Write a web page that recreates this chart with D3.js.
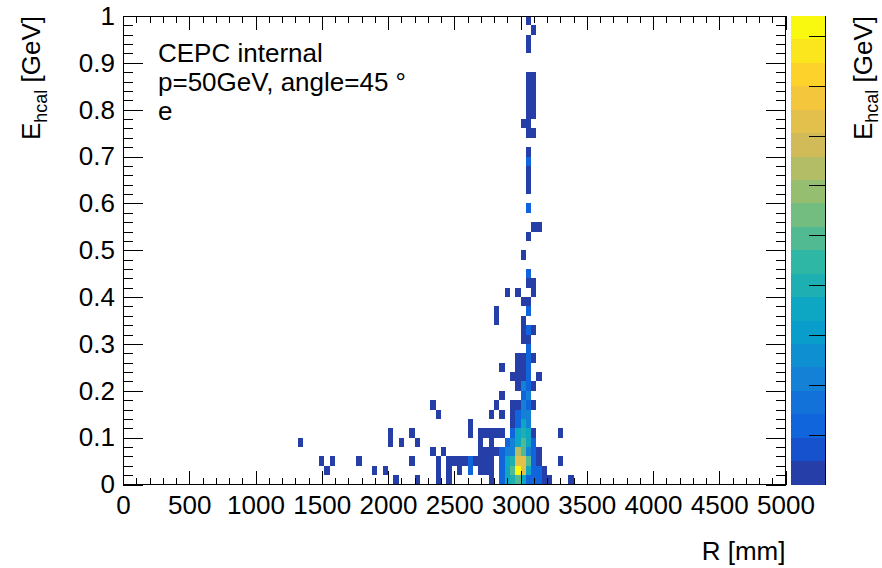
<!DOCTYPE html>
<html><head><meta charset="utf-8">
<script src="https://cdn.jsdelivr.net/npm/d3@7"></script>
<style>
body{margin:0;background:#fff}
svg{display:block}
text{font-family:"Liberation Sans",Arial,Helvetica,sans-serif;fill:#000}
</style>
</head><body>
<svg id="c" width="882" height="568"></svg>
<script>
// ---------------- data ----------------
const rBinWidth = 40;      // mm
const eBinWidth = 0.02;    // GeV
const zMax = 9.4;
const nContours = 20;
// lower edges of filled bins (R in mm, E in GeV) and bin contents
const binR = [
 3040, 3080, 3040, 3040,
 3040,3080, 3040,3080, 3040,3080, 3040,3080, 3040,3080,
 3000,3040, 3040,3080,
 3040, 3040, 3040, 3040, 3040,
 3040, 3080,3120, 3040, 3000, 3040, 3040,3080,
 2880,2960,3080, 3000,3040, 2800,3040, 2800,3000,
 3000,3040,3080, 3000,3040, 3040,
 2960,3000,3040,3080, 2840,2960,3000,3040,
 2920,2960,3000,3040,3120, 2960,3000,3040,3080,
 2840,3000,3040,
 2320,2800,2920,2960,3000,3040,3080,
 2360,2760,2840,2920,2960,3000,3040,
 2600,2920,2960,3000,3040,
 2000,2160,2600,2680,2720,2760,2800,2840,2920,2960,3000,3040,3080,3280,
 1320,2000,2080,2200,2680,2760,2880,2920,2960,3000,3040,3080,
 2320,2400,2680,2720,2760,2800,2840,2880,2920,2960,3000,3040,3080,3120,
 1480,1560,1760,2160,2360,2440,2480,2520,2560,2600,2640,2680,2720,2760,2840,2880,2920,2960,3000,3040,3080,3120,3280,
 1520,1880,1960,2360,2440,2520,2600,2680,2720,2760,2840,2880,2920,2960,3000,3040,3080,3120,3160,
 2040,2200,2360,2440,2760,2840,2880,2920,2960,3000,3040,3080,3120,3160,3200,3360
];
const binE = [
 0.98, 0.96, 0.94, 0.92,
 0.86,0.86, 0.84,0.84, 0.82,0.82, 0.80,0.80, 0.78,0.78,
 0.76,0.76, 0.74,0.74,
 0.70, 0.68, 0.66, 0.64, 0.62,
 0.58, 0.54,0.54, 0.52, 0.48, 0.44, 0.42,0.42,
 0.40,0.40,0.40, 0.38,0.38, 0.36,0.36, 0.34,0.34,
 0.32,0.32,0.32, 0.30,0.30, 0.28,
 0.26,0.26,0.26,0.26, 0.24,0.24,0.24,0.24,
 0.22,0.22,0.22,0.22,0.22, 0.20,0.20,0.20,0.20,
 0.18,0.18,0.18,
 0.16,0.16,0.16,0.16,0.16,0.16,0.16,
 0.14,0.14,0.14,0.14,0.14,0.14,0.14,
 0.12,0.12,0.12,0.12,0.12,
 0.10,0.10,0.10,0.10,0.10,0.10,0.10,0.10,0.10,0.10,0.10,0.10,0.10,0.10,
 0.08,0.08,0.08,0.08,0.08,0.08,0.08,0.08,0.08,0.08,0.08,0.08,
 0.06,0.06,0.06,0.06,0.06,0.06,0.06,0.06,0.06,0.06,0.06,0.06,0.06,0.06,
 0.04,0.04,0.04,0.04,0.04,0.04,0.04,0.04,0.04,0.04,0.04,0.04,0.04,0.04,0.04,0.04,0.04,0.04,0.04,0.04,0.04,0.04,0.04,
 0.02,0.02,0.02,0.02,0.02,0.02,0.02,0.02,0.02,0.02,0.02,0.02,0.02,0.02,0.02,0.02,0.02,0.02,0.02,
 0,0,0,0,0,0,0,0,0,0,0,0,0,0,0,0
];
const binW = [
 0.3, 0.3, 0.3, 0.3,
 0.3,0.3, 0.3,0.3, 0.3,0.3, 0.3,0.3, 0.3,0.3,
 0.3,0.3, 0.3,0.3,
 0.3, 1.2, 0.3, 0.3, 0.3,
 1.2, 0.3,0.3, 0.3, 0.3, 1.2, 0.3,0.3,
 0.3,0.3,0.3, 0.3,0.3, 0.3,1.2, 0.3,0.3,
 0.3,1.2,0.3, 0.3,0.3, 1.2,
 0.3,0.3,1.2,0.3, 0.3,0.3,0.3,1.2,
 0.3,0.3,0.3,1.2,0.3, 0.3,2.0,1.2,0.3,
 0.3,1.2,2.0,
 0.3,0.3,0.3,0.3,2.0,1.2,0.3,
 0.3,0.3,0.3,0.3,1.2,2.0,2.0,
 0.3,0.3,1.2,3.3,2.0,
 0.3,0.3,0.3,0.3,0.3,0.3,0.3,0.3,1.2,3.3,4.2,3.3,0.3,0.3,
 0.3,0.3,0.3,0.3,0.3,0.3,1.2,2.0,3.3,5.0,3.3,1.2,
 0.3,0.3,0.3,0.3,0.3,0.3,1.2,2.0,2.0,6.3,5.0,2.0,1.2,0.3,
 0.3,0.3,0.3,0.3,0.3,0.3,0.3,0.3,0.3,1.2,0.3,0.3,0.3,0.3,1.2,3.3,4.2,7.2,7.2,5.0,1.2,0.3,0.3,
 0.3,0.3,0.3,0.3,0.3,0.3,1.2,0.3,0.3,0.3,1.2,3.3,5.0,9.2,7.2,3.3,1.2,1.2,0.3,
 0.3,0.3,0.3,0.3,0.3,1.2,3.3,4.2,5.0,3.3,1.2,1.2,1.2,0.3,0.3,0.3
];
const xMajorTicks = [0,500,1000,1500,2000,2500,3000,3500,4000,4500,5000];
const yMajorTicks = [0,0.1,0.2,0.3,0.4,0.5,0.6,0.7,0.8,0.9,1];
const zTicks = [1,2,3,4,5,6,7,8,9];
const legendLines = ["CEPC internal","p=50GeV, angle=45 \u00b0","e"];

// ---------------- palette (kBird) ----------------
const stops=[0,0.125,0.25,0.375,0.5,0.625,0.75,0.875,1];
const red=[0.2082,0.0592,0.0780,0.0232,0.1802,0.5301,0.8186,0.9956,0.9764];
const green=[0.1664,0.3599,0.5041,0.6419,0.7178,0.7492,0.7328,0.7862,0.9832];
const blue=[0.5293,0.8684,0.8385,0.7914,0.6425,0.4662,0.3499,0.1968,0.0539];
const palette=[];
for(let g=1;g<stops.length;g++){
  const n=Math.floor(255*stops[g])-Math.floor(255*stops[g-1]);
  for(let c=0;c<n;c++){
    const f=c/n;
    palette.push(d3.rgb(255*(red[g-1]+f*(red[g]-red[g-1])),255*(green[g-1]+f*(green[g]-green[g-1])),255*(blue[g-1]+f*(blue[g]-blue[g-1]))).formatHex());
  }
}
const bandColor = i => palette[Math.min(palette.length-1, Math.floor((i+0.99)*palette.length/nContours))];
const levelOf = w => Math.max(0, Math.min(nContours-1, Math.floor(w/zMax*nContours)));

// ---------------- layout ----------------
const svg=d3.select("#c");
const L=123, R=785.5, T=16, B=484.5;
const x=d3.scaleLinear().domain([0,5000]).range([L,R]);
const y=d3.scaleLinear().domain([0,1]).range([B,T]);
const z=d3.scaleLinear().domain([0,zMax]).range([B,T]);
const cbL=790.7, cbR=825.7;

// cells
const cells = binR.map((r,i)=>({r, e:binE[i], w:binW[i]}));
svg.append("g").attr("shape-rendering","crispEdges")
  .selectAll("rect").data(cells).join("rect")
  .attr("x",d=>x(d.r)).attr("width",d=>x(d.r+rBinWidth)-x(d.r))
  .attr("y",d=>y(d.e+eBinWidth)).attr("height",d=>y(d.e)-y(d.e+eBinWidth))
  .attr("fill",d=>bandColor(levelOf(d.w)));

// axes
const fs=26;
function styleAxis(g){ g.select(".domain").remove(); g.selectAll("line").attr("stroke","#000"); g.selectAll("text").attr("font-size",fs).attr("fill","#000").attr("font-family",null); }
const fmt=d3.format("~g");
svg.append("g").attr("transform",`translate(0,${B})`)
  .call(d3.axisBottom(x).tickValues(xMajorTicks).tickSize(-14).tickPadding(11).tickFormat(fmt)).call(styleAxis);
svg.append("g").attr("transform",`translate(0,${B})`)
  .call(d3.axisBottom(x).tickValues(x.ticks(50)).tickSize(-7).tickFormat("")).call(styleAxis);
svg.append("g").attr("transform",`translate(0,${T})`)
  .call(d3.axisTop(x).tickValues(xMajorTicks).tickSize(-14).tickFormat("")).call(styleAxis);
svg.append("g").attr("transform",`translate(0,${T})`)
  .call(d3.axisTop(x).tickValues(x.ticks(50)).tickSize(-7).tickFormat("")).call(styleAxis);
svg.append("g").attr("transform",`translate(${L},0)`)
  .call(d3.axisLeft(y).tickValues(yMajorTicks).tickSize(-20).tickPadding(8).tickFormat(fmt)).call(styleAxis);
svg.append("g").attr("transform",`translate(${L},0)`)
  .call(d3.axisLeft(y).tickValues(y.ticks(50)).tickSize(-10).tickFormat("")).call(styleAxis);
svg.append("g").attr("transform",`translate(${R},0)`)
  .call(d3.axisRight(y).tickValues(yMajorTicks).tickSize(-20).tickFormat("")).call(styleAxis);
svg.append("g").attr("transform",`translate(${R},0)`)
  .call(d3.axisRight(y).tickValues(y.ticks(50)).tickSize(-10).tickFormat("")).call(styleAxis);
svg.selectAll("g.tick line").attr("shape-rendering","crispEdges");

// frame
svg.append("rect").attr("x",L).attr("y",T).attr("width",R-L).attr("height",B-T)
  .attr("fill","none").attr("stroke","#000").attr("shape-rendering","crispEdges");

// colour bar
const bands=d3.range(nContours);
svg.append("g").attr("shape-rendering","crispEdges").selectAll("rect").data(bands).join("rect")
  .attr("x",cbL).attr("width",cbR-cbL)
  .attr("y",i=>z((i+1)*zMax/nContours)).attr("height",i=>z(i*zMax/nContours)-z((i+1)*zMax/nContours))
  .attr("fill",i=>bandColor(i));
svg.append("g").attr("transform",`translate(${cbR},0)`)
  .call(d3.axisRight(z).tickValues(zTicks).tickSize(-17).tickFormat("")).call(g=>{g.selectAll("line").attr("stroke","#000").attr("shape-rendering","crispEdges"); g.select(".domain").attr("d",`M0,${B}V${T}`).attr("stroke","#000").attr("shape-rendering","crispEdges");});

// axis titles
svg.append("text").attr("x",R).attr("y",560).attr("text-anchor","end").attr("font-size",fs).text("R [mm]");
function eTitle(tx, sub){
  const t=svg.append("text").attr("transform",`translate(${tx},${T}) rotate(-90)`).attr("text-anchor","end").attr("font-size",fs);
  t.append("tspan").text("E");
  t.append("tspan").attr("font-size",18).attr("dy",sub).text("hcal");
  t.append("tspan").attr("dy",-sub).text(" [GeV]");
}
eTitle(40, 7);
eTitle(872, 6);

// legend text
svg.append("g").selectAll("text").data(legendLines).join("text")
  .attr("x",158).attr("y",(d,i)=>62+i*29).attr("font-size",fs).text(d=>d);
</script>
</body></html>
